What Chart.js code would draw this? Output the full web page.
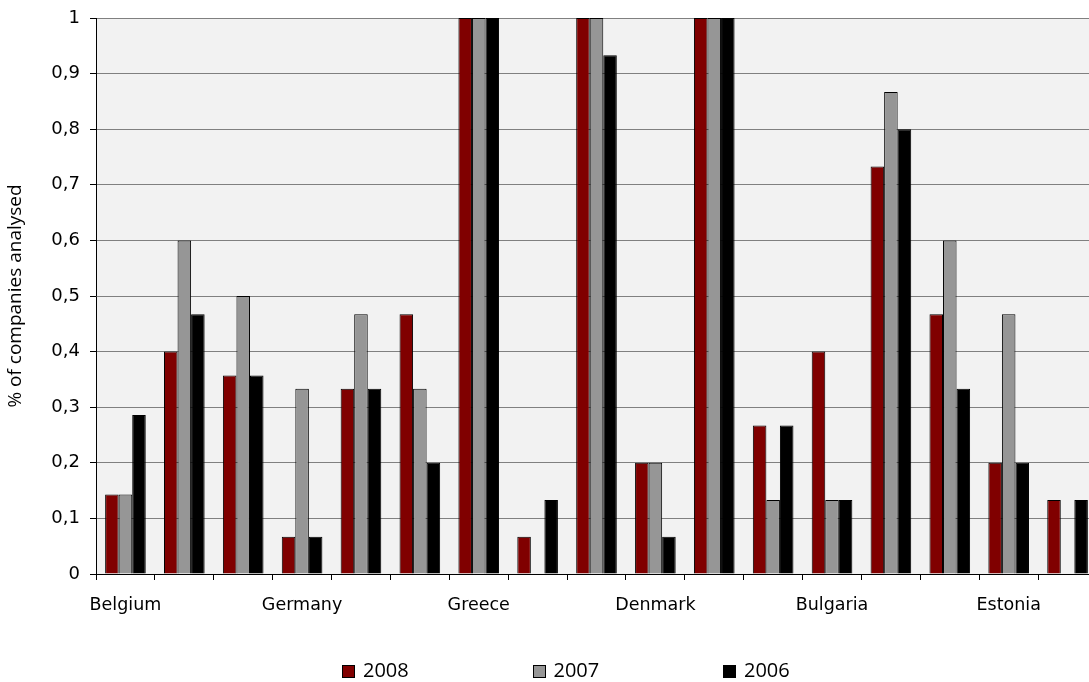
<!DOCTYPE html>
<html>
<head>
<meta charset="utf-8">
<script src="https://cdn.jsdelivr.net/npm/chart.js@4/dist/chart.umd.min.js"></script>
<style>
  html, body { margin: 0; padding: 0; background: #ffffff; overflow: hidden; }
  #wrap { position: relative; width: 1089px; height: 682px; overflow: hidden; }
  #chart { position: absolute; left: 0; top: 0; }
  #legend { position: absolute; left: 342px; top: 656px; display: flex; font-family: "Open Sans", sans-serif; font-size: 20px; line-height: normal; color: #000; }
  .item { width: 190.5px; display: flex; align-items: center; }
  .box { width: 11px; height: 11px; border: 1px solid #000; margin-right: 8px; position: relative; top: 2px; }
</style>
</head>
<body>
<div id="wrap">
  <canvas id="chart" width="1100" height="682"></canvas>
  <div id="legend"></div>
</div>
<script>
// Categories (only every third one carries a name on the axis)
const categories = ['Belgium', '', '', 'Germany', '', '', 'Greece', '', '', 'Denmark', '', '', 'Bulgaria', '', '', 'Estonia', ''];

// Share of companies analysed, per year
const values2008 = [0.143, 0.4, 0.357, 0.067, 0.333, 0.467, 1, 0.067, 1, 0.2, 1, 0.267, 0.4, 0.733, 0.467, 0.2, 0.133];
const values2007 = [0.143, 0.6, 0.5, 0.333, 0.467, 0.333, 1, 0, 1, 0.2, 1, 0.133, 0.133, 0.867, 0.6, 0.467, 0];
const values2006 = [0.286, 0.467, 0.357, 0.067, 0.333, 0.2, 1, 0.133, 0.933, 0.067, 1, 0.267, 0.133, 0.8, 0.333, 0.2, 0.133];

const seriesNames = ['2008', '2007', '2006'];
const seriesColors = ['#800000', '#969696', '#000000'];
const yTicks = [0, 0.1, 0.2, 0.3, 0.4, 0.5, 0.6, 0.7, 0.8, 0.9, 1];

const plotBackground = {
  id: 'plotBackground',
  beforeDraw(chart) {
    const { ctx, chartArea: a } = chart;
    ctx.save();
    ctx.fillStyle = '#f2f2f2';
    ctx.fillRect(a.left, a.top, a.right - a.left, a.bottom - a.top);
    ctx.restore();
  }
};

const seriesData = [values2008, values2007, values2006];

new Chart(document.getElementById('chart'), {
  type: 'bar',
  data: {
    labels: categories,
    datasets: seriesNames.map((name, i) => ({
      label: name,
      data: seriesData[i],
      backgroundColor: seriesColors[i],
      borderColor: '#000000',
      borderWidth: 1,
      categoryPercentage: 0.69,
      barPercentage: 1
    }))
  },
  options: {
    responsive: false,
    animation: false,
    layout: { padding: { top: 18, right: 3, left: 0, bottom: 0 } },
    plugins: {
      legend: { display: false },
      tooltip: { enabled: false }
    },
    scales: {
      x: {
        offset: true,
        grid: { offset: true, drawOnChartArea: false, drawTicks: true, tickLength: 6, tickColor: '#000000', tickWidth: 1 },
        border: { display: true, color: '#000000', width: 1 },
        ticks: {
          autoSkip: false,
          maxRotation: 0,
          padding: 15,
          color: '#000000',
          font: { family: 'DejaVu Sans', size: 17.5 }
        },
        afterFit(scale) { scale.height = 108; }
      },
      y: {
        min: 0,
        max: 1,
        afterBuildTicks(scale) { scale.ticks = yTicks.map(v => ({ value: v })); },
        grid: { color: '#808080', lineWidth: 1, drawTicks: true, tickLength: 6, tickColor: '#000000' },
        border: { display: true, color: '#000000', width: 1 },
        ticks: {
          padding: 10,
          color: '#000000',
          font: { family: 'DejaVu Sans', size: 18 },
          callback: v => String(Math.round(v * 10) / 10).replace('.', ',')
        },
        title: {
          display: true,
          text: '% of companies analysed',
          color: '#000000',
          font: { family: 'Open Sans', size: 19 },
          padding: { top: 4, bottom: 0 }
        },
        afterFit(scale) {
          scale.width = 96;
          // keep the label overhang from pushing the plot down
          scale.paddingTop = 10;
          scale.paddingBottom = 10;
        }
      }
    }
  },
  plugins: [plotBackground]
});

// Legend row
const legend = document.getElementById('legend');
seriesNames.forEach((name, i) => {
  const item = document.createElement('div');
  item.className = 'item';
  const box = document.createElement('span');
  box.className = 'box';
  box.style.background = seriesColors[i];
  const label = document.createElement('span');
  label.textContent = name;
  item.appendChild(box);
  item.appendChild(label);
  legend.appendChild(item);
});
</script>
</body>
</html>
